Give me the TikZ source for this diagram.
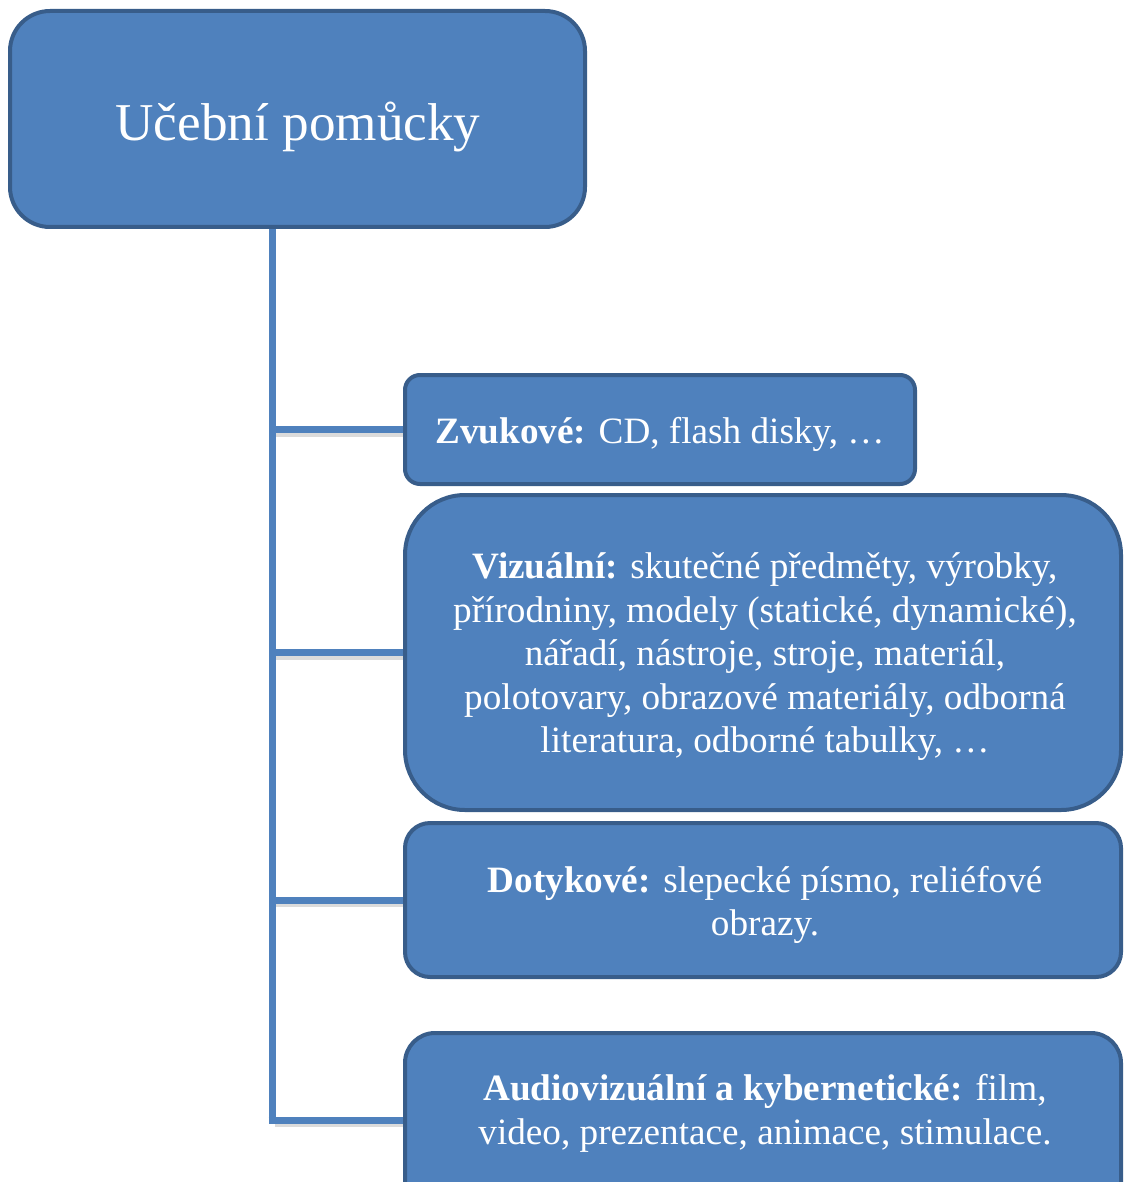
\documentclass[tikz,border=0pt]{standalone}
\usepackage{fontspec}
\setmainfont{Liberation Serif}
\usetikzlibrary{backgrounds}
\definecolor{boxfill}{HTML}{4F81BD}
\definecolor{boxline}{HTML}{385D8A}
\begin{document}
\begin{tikzpicture}[x=1pt,y=-1pt,
  box/.style={draw=boxline, line width=4pt, fill=boxfill, inner sep=0pt},
  conn/.style={draw=boxfill, line width=7pt},
  shade/.style={draw=black!14, line width=6pt},
  txt/.style={text=white, align=center, inner sep=0pt, font=\fontsize{37.2}{43.5}\selectfont}]
\useasboundingbox (0,0) rectangle (1124,1182);
\clip (0,0) rectangle (1124,1182);
\coordinate (ttop) at (272,226);
\coordinate (tbot) at (272,1120);
\node[box, minimum width=575pt, minimum height=216pt, rounded corners=40pt] (root) at (297.5,119) {};
\node[txt, font=\fontsize{53.2}{60}\selectfont] (roott) at (298,127) {Učební pomůcky};
\node[box, minimum width=510pt, minimum height=109pt, rounded corners=15pt] (z) at (660,429.5) {};
\node[txt] (zt) at (660,434.5) {\textbf{Zvukové:} CD, flash disky, …};
\node[box, minimum width=716pt, minimum height=315pt, rounded corners=60pt] (v) at (763,652.5) {};
\node[txt] (vt) at (765,657) {\textbf{Vizuální:} skutečné předměty, výrobky,\\přírodniny, modely (statické, dynamické),\\nářadí, nástroje, stroje, materiál,\\polotovary, obrazové materiály, odborná\\literatura, odborné tabulky, …};
\node[box, minimum width=716pt, minimum height=154pt, rounded corners=25pt] (d) at (763,900) {};
\node[txt] (dt) at (765,905) {\textbf{Dotykové:} slepecké písmo, reliéfové\\obrazy.};
\node[box, minimum width=716pt, minimum height=190pt, rounded corners=30pt, anchor=north] (a) at (763,1031) {};
\node[txt] (at) at (765,1113.5) {\textbf{Audiovizuální a kybernetické:} film,\\video, prezentace, animace, stimulace.};
\begin{scope}[on background layer]
\draw[shade] ([xshift=3pt,yshift=-4pt]tbot) -- ([yshift=-4pt]a.west |- tbot);
\foreach \n in {z,v,d}{\draw[shade] ([xshift=3pt,yshift=-4pt]ttop |- \n.west) -- ([yshift=-4pt]\n.west);}
\draw[conn] (ttop) -- (tbot);
\draw[conn] (ttop |- z.west) -- (z.west);
\draw[conn] (ttop |- v.west) -- (v.west);
\draw[conn] (ttop |- d.west) -- (d.west);
\draw[conn] ([xshift=-3.5pt]tbot) -- (a.west |- tbot);
\end{scope}
\end{tikzpicture}
\end{document}
